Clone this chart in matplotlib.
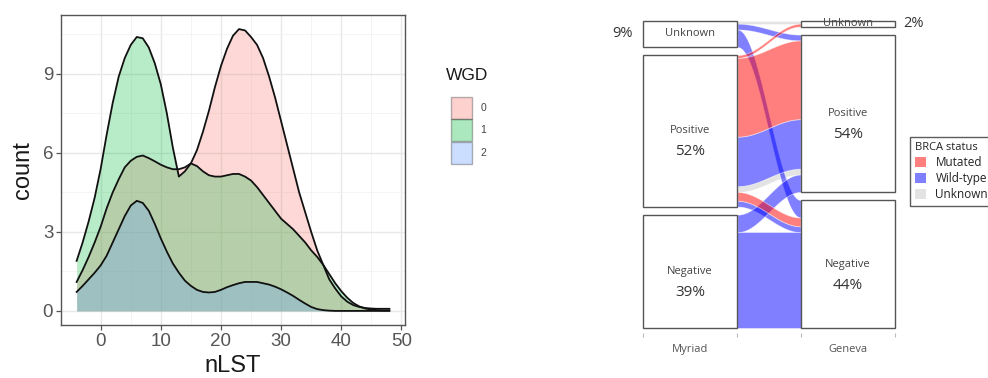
import numpy as np
import matplotlib
matplotlib.use("Agg")
import matplotlib.pyplot as plt
from matplotlib.patches import Patch, Rectangle

# ---- left panel: nLST counts (density scaled) per WGD group ----
nlst = np.arange(-4, 49)
wgd_levels = ["0", "1", "2"]
count_wgd0 = [1.1, 1.55, 2.05, 2.6, 3.2, 3.9, 4.5, 5.0, 5.45, 5.7, 5.85, 5.9, 5.8, 5.68,
              5.55, 5.45, 5.38, 5.38, 5.45, 5.6, 6.1, 6.8, 7.6, 8.5, 9.3, 9.95, 10.45, 10.7,
              10.65, 10.4, 10.1, 9.6, 8.9, 8.1, 7.2, 6.3, 5.4, 4.5, 3.75, 3.0, 2.3, 1.75,
              1.2, 0.85, 0.55, 0.35, 0.22, 0.15, 0.11, 0.09, 0.08, 0.08, 0.08]
count_wgd1 = [1.9, 2.6, 3.4, 4.3, 5.4, 6.7, 7.9, 8.9, 9.6, 10.1, 10.4, 10.35, 10.0, 9.4,
              8.6, 7.5, 6.2, 5.1, 5.3, 5.6, 5.5, 5.3, 5.15, 5.1, 5.1, 5.15, 5.2, 5.2,
              5.1, 4.95, 4.7, 4.4, 4.1, 3.8, 3.5, 3.3, 3.1, 2.85, 2.6, 2.3, 2.05, 1.75,
              1.4, 1.05, 0.75, 0.5, 0.3, 0.17, 0.09, 0.05, 0.03, 0.02, 0.02]
count_wgd2 = [0.72, 0.95, 1.2, 1.45, 1.73, 2.1, 2.6, 3.1, 3.6, 4.0, 4.18, 4.1, 3.8, 3.3,
              2.75, 2.25, 1.8, 1.45, 1.15, 0.95, 0.8, 0.72, 0.7, 0.72, 0.8, 0.9, 0.98, 1.05,
              1.1, 1.1, 1.1, 1.05, 1.0, 0.92, 0.82, 0.7, 0.57, 0.42, 0.28, 0.15, 0.07, 0.03,
              0.01, 0, 0, 0, 0, 0, 0, 0, 0, 0, 0]
wgd_colors = ["#F8766D", "#00BA38", "#619CFF"]

# ---- right panel: patients per (Myriad status, Geneva status, BRCA status) ----
alluvial_axes = ["Myriad", "Geneva"]
strata = ["Unknown", "Positive", "Negative"]
brca_levels = ["Mutated", "Wild-type", "Unknown"]
brca_colors = ["red", "blue", "#C8C8C8"]
myriad = ["Unknown", "Unknown", "Unknown", "Positive", "Positive", "Positive",
          "Positive", "Positive", "Positive", "Negative", "Negative"]
geneva = ["Unknown", "Positive", "Negative", "Unknown", "Positive", "Positive",
          "Positive", "Negative", "Negative", "Positive", "Negative"]
brca = ["Unknown", "Wild-type", "Wild-type", "Mutated", "Mutated", "Wild-type",
        "Unknown", "Mutated", "Wild-type", "Wild-type", "Wild-type"]
n_patients = [1, 2, 6, 1, 27, 17, 2, 3, 2, 6, 33]

W, H = 988, 378
fig = plt.figure(figsize=(W / 100, H / 100), dpi=100)


def px_axes(left, top, right, bottom):
    return fig.add_axes([left / W, 1 - bottom / H, (right - left) / W, (bottom - top) / H])


# ================= left: density plot =================
sans = ["Liberation Sans", "DejaVu Sans"]
fill_alpha = 0.28
ax = px_axes(61, 15, 405, 325)
ax.set_xlim(-6.6, 50.6)
ax.set_ylim(-0.535, 11.235)
ax.set_xticks(range(0, 51, 10))
ax.set_xticks(range(5, 50, 10), minor=True)
ax.set_yticks([0, 3, 6, 9])
ax.set_yticks([1.5, 4.5, 7.5, 10.5], minor=True)
ax.grid(which="major", color="#E8E8E8", lw=1.0)
ax.grid(which="minor", color="#F2F2F2", lw=0.6)
ax.set_axisbelow(True)
ax.tick_params(which="minor", length=0)
ax.tick_params(which="major", length=3.6, width=0.9, color="#555555",
               labelcolor="#555555", labelsize=13.5, pad=2)
for lab in ax.get_xticklabels() + ax.get_yticklabels():
    lab.set_family(sans)
for sp in ax.spines.values():
    sp.set_color("#555555")
    sp.set_linewidth(1.0)

for counts, col in zip([count_wgd0, count_wgd1, count_wgd2], wgd_colors):
    ax.fill_between(nlst, 0, counts, color=col, alpha=fill_alpha, lw=0)
    ax.plot(nlst, counts, color="#111111", lw=1.3)

ax.set_xlabel("nLST", fontsize=17, family=sans, color="#1a1a1a", labelpad=4)
ax.set_ylabel("count", fontsize=17, family=sans, color="#1a1a1a", labelpad=6)

fig.text(446 / W, 1 - 76 / H, "WGD", fontsize=12.5, family=sans, color="#1a1a1a",
         ha="left", va="center")
wgd_handles = [Patch(facecolor=c, alpha=fill_alpha + 0.05, edgecolor="#222222", lw=1.0)
               for c in wgd_colors]
leg1 = fig.legend(wgd_handles, wgd_levels, loc="upper left",
                  bbox_to_anchor=(451 / W, 1 - 97 / H), bbox_transform=fig.transFigure,
                  frameon=False, handlelength=2.0, handleheight=2.85,
                  labelspacing=0.05, handletextpad=0.8, borderpad=0, borderaxespad=0,
                  prop={"family": sans, "size": 7.5})
for txt in leg1.get_texts():
    txt.set_color("#444444")

# ================= right: alluvial plot =================
ofont = ["Open Sans", "DejaVu Sans"]
gap = 2.75
half_w = 0.3
ax2 = px_axes(600, 0, 988, 333)
ax2.set_xlim(0.4304, 2.886)
ax2.set_ylim(-1.612, 112.62)
for sp in ax2.spines.values():
    sp.set_visible(False)
ax2.set_yticks([])
ax2.set_xticks([1 - half_w, 1 + half_w, 2 - half_w, 2 + half_w])
ax2.set_xticklabels([])
ax2.set_xticks([1, 2], minor=True)
ax2.set_xticklabels(alluvial_axes, minor=True, fontsize=8, family=ofont, color="#555555")
ax2.tick_params(which="major", length=3, width=0.8, color="#BBBBBB", direction="out")
ax2.tick_params(which="minor", length=0, pad=8)

left_tot = {s: sum(n for m, n in zip(myriad, n_patients) if m == s) for s in strata}
right_tot = {s: sum(n for g, n in zip(geneva, n_patients) if g == s) for s in strata}
total = sum(n_patients)


def stratum_spans(tot):
    spans, top = {}, sum(tot.values()) + gap * (len(strata) - 1)
    for s in strata:
        spans[s] = (top - tot[s], top)
        top -= tot[s] + gap
    return spans


def lode_spans(own, other, spans):
    pos = [None] * len(n_patients)
    for s in strata:
        idx = [i for i in range(len(own)) if own[i] == s]
        idx.sort(key=lambda i: (strata.index(other[i]), brca_levels.index(brca[i])))
        top = spans[s][1]
        for i in idx:
            pos[i] = (top - n_patients[i], top)
            top -= n_patients[i]
    return pos


left_spans = stratum_spans(left_tot)
right_spans = stratum_spans(right_tot)
left_pos = lode_spans(myriad, geneva, left_spans)
right_pos = lode_spans(geneva, myriad, right_spans)

t = np.linspace(0, 1, 80)
xs = 1 + half_w + (1 - 2 * half_w) * t
ease = (1 - np.cos(np.pi * t)) / 2
paint_order = ["Unknown", "Wild-type", "Mutated"]
for i in sorted(range(len(n_patients)), key=lambda i: paint_order.index(brca[i])):
    (l0, l1), (r0, r1) = left_pos[i], right_pos[i]
    col = brca_colors[brca_levels.index(brca[i])]
    ax2.fill_between(xs, l0 + (r0 - l0) * ease, l1 + (r1 - l1) * ease,
                     facecolor=col, edgecolor="white", lw=0.6, alpha=0.5, zorder=2)

for k, (tot, spans) in enumerate([(left_tot, left_spans), (right_tot, right_spans)]):
    cx = k + 1
    for s in strata:
        y0, y1 = spans[s]
        ax2.add_patch(Rectangle((cx - half_w, y0), 2 * half_w, y1 - y0, facecolor="white",
                                edgecolor="#555555", lw=1.0, zorder=3))
        mid = (y0 + y1) / 2
        pct = f"{round(100 * tot[s] / total)}%"
        ax2.text(cx, mid, s, ha="center", va="center", fontsize=8, family=ofont,
                 color="#444444", zorder=4)
        if s == "Unknown":
            if k == 0:
                ax2.text(cx - half_w - 0.06, mid, pct, ha="right", va="center",
                         fontsize=10.5, family=ofont, color="#333333")
            else:
                ax2.text(cx + half_w + 0.05, mid, pct, ha="left", va="center",
                         fontsize=10.5, family=ofont, color="#333333")
        else:
            ax2.annotate(pct, (cx, mid), xytext=(0, -15), textcoords="offset points",
                         ha="center", va="center", fontsize=11, family=ofont,
                         color="#333333", zorder=4)

brca_handles = [Patch(facecolor=c, alpha=0.5, lw=0) for c in brca_colors]
leg2 = fig.legend(brca_handles, brca_levels, title="BRCA status", loc="upper left",
                  bbox_to_anchor=(910 / W, 1 - 136.7 / H), bbox_transform=fig.transFigure,
                  frameon=True, fancybox=False, borderaxespad=0, borderpad=0.45,
                  handlelength=0.9, handleheight=0.9, labelspacing=0.25, handletextpad=0.8,
                  prop={"family": ofont, "size": 8.5},
                  title_fontproperties={"family": ofont, "size": 8},
                  alignment="left")
leg2.get_frame().set_edgecolor("#333333")
leg2.get_frame().set_linewidth(1.0)
for txt in leg2.get_texts():
    txt.set_color("#222222")
leg2.get_title().set_color("#222222")

fig.savefig("out.png", dpi=100)
